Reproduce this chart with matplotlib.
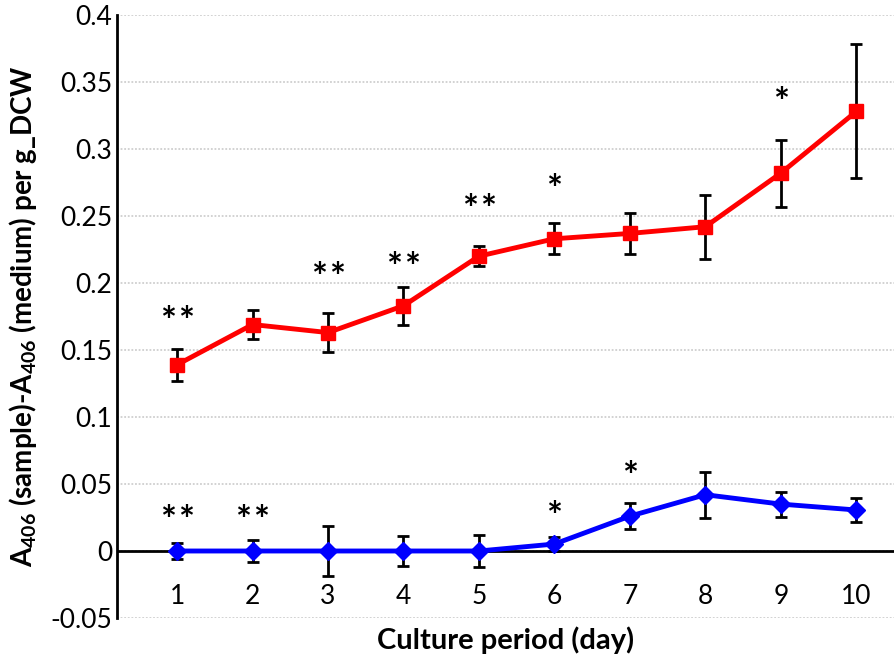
import matplotlib.pyplot as plt
import matplotlib.transforms as mtransforms
import numpy as np

# Данные
days = [1, 2, 3, 4, 5, 6, 7, 8, 9, 10]
red_vals = [0.139, 0.169, 0.163, 0.183, 0.220, 0.233, 0.237, 0.242, 0.282, 0.328]
red_err = [0.012, 0.011, 0.0145, 0.014, 0.0075, 0.0115, 0.015, 0.024, 0.025, 0.050]
blue_vals = [0.0, 0.0, 0.0, 0.0, 0.0, 0.0052, 0.026, 0.042, 0.035, 0.0306]
blue_err = [0.006, 0.008, 0.019, 0.0115, 0.012, 0.005, 0.0097, 0.017, 0.0093, 0.0093]

# значимость: (день, y, число звёзд)
star_days = [1, 3, 4, 5, 6, 9, 1, 2, 6, 7]
star_y = [0.178, 0.211, 0.219, 0.262, 0.277, 0.342, 0.030, 0.030, 0.033, 0.063]
star_n = [2, 2, 2, 2, 1, 1, 2, 2, 1, 1]

plt.rcParams['font.family'] = ['Lato', 'DejaVu Sans']
plt.rcParams['mathtext.fontset'] = 'custom'
plt.rcParams['mathtext.rm'] = 'Lato'
plt.rcParams['mathtext.bf'] = 'Lato:bold'

fig = plt.figure(figsize=(8.94, 6.62), dpi=100)
ax = fig.add_axes([117 / 894, 1 - 618 / 662, (894 - 117) / 894, (618 - 15) / 662])

ax.set_ylim(-0.05, 0.4)
ax.set_xlim(0.204, 10.5)
ax.set_yticks(np.arange(-0.05, 0.401, 0.05))
ax.set_yticklabels(['-0.05', '0', '0.05', '0.1', '0.15', '0.2', '0.25', '0.3', '0.35', '0.4'])
ax.yaxis.grid(True, color='#cfcfcf', linewidth=1.3, linestyle=(0, (1, 1)))
ax.set_axisbelow(True)
ax.axhline(0, color='black', linewidth=2, zorder=2)

ax.errorbar(days, red_vals, yerr=red_err, color='#ff0000', ecolor='black', elinewidth=2,
            capsize=4, capthick=2, linewidth=3.5, marker='s', markersize=10, zorder=3)
ax.errorbar(days, blue_vals, yerr=blue_err, color='#0000ff', ecolor='black', elinewidth=2,
            capsize=4, capthick=2, linewidth=3.5, marker='D', markersize=9, zorder=3)

# звёздочки; пара звёзд разнесена немного в стороны
for d, y, n in zip(star_days, star_y, star_n):
    shifts = [0] if n == 1 else [-9, 9]
    for dx in shifts:
        tr = mtransforms.offset_copy(ax.transData, fig=fig, x=dx, y=-11, units='dots')
        ax.text(d, y, '*', ha='center', va='center', fontsize=27, fontweight='bold',
                transform=tr)

for s in ['top', 'right', 'bottom']:
    ax.spines[s].set_visible(False)
ax.spines['left'].set_linewidth(2)
ax.tick_params(axis='both', length=0, labelsize=19)
ax.set_xticks([])

# подписи категорий под нулевой линией
for d in days:
    ax.text(d, -0.034, str(d), ha='center', va='center', fontsize=19)

ax.set_xlabel('Culture period (day)', fontsize=21, fontweight='bold', labelpad=6)
ax.set_ylabel(r'A$_{\mathbf{406}}$ (sample)-A$_{\mathbf{406}}$ (medium) per g_DCW',
              fontsize=20, fontweight='bold', labelpad=8)

fig.savefig('out.png', dpi=100)
